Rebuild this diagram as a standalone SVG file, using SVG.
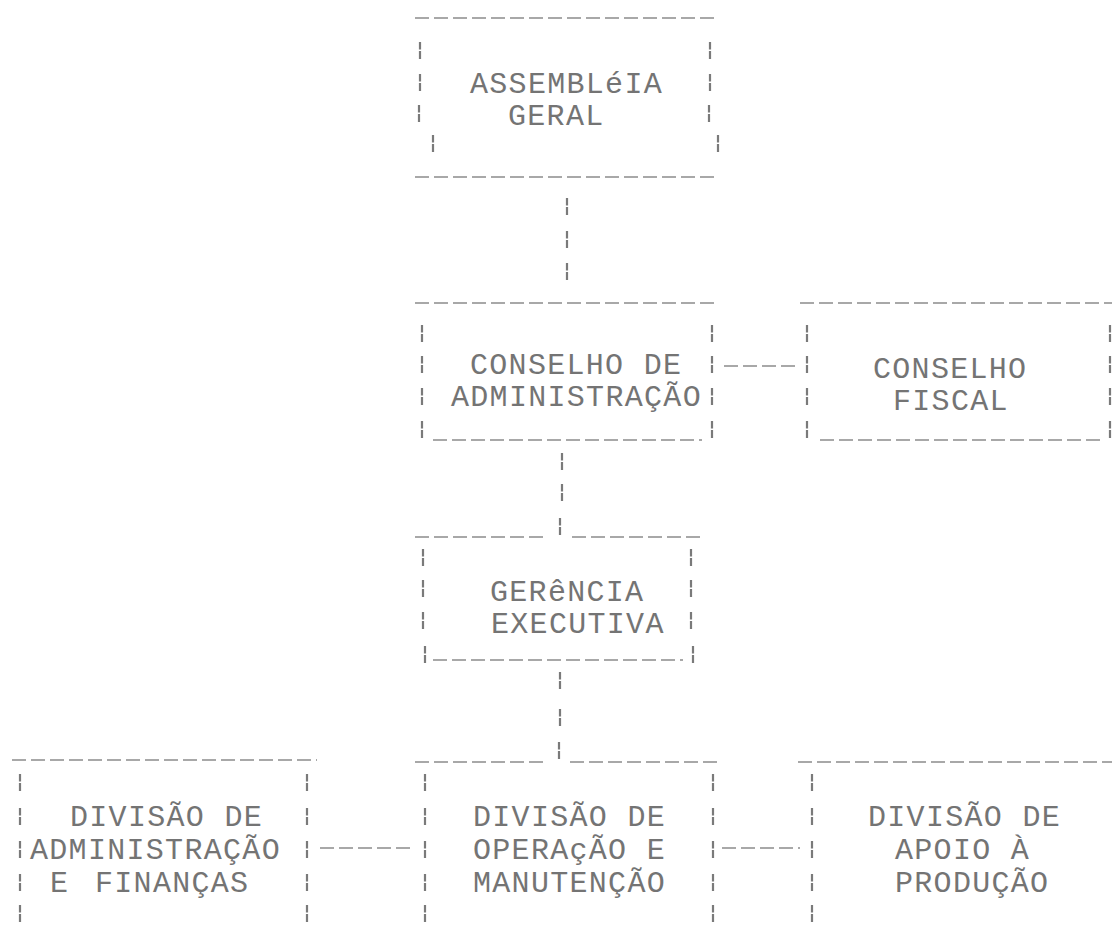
<svg xmlns="http://www.w3.org/2000/svg" width="1112" height="936" viewBox="0 0 1112 936">
<defs>
<style>
.t{font-family:"Liberation Mono","DejaVu Sans Mono",monospace;font-size:30px;letter-spacing:1.3px;fill:#747474}
.h{stroke:#8c8c8c;stroke-width:1.6;stroke-dasharray:14 5;fill:none}
.b{stroke:#7a7a7a;stroke-width:2.2;fill:none}
</style>
<path id="bar" class="b" d="M0,-18 v7.5 M0,-9 v8"/>
</defs>
<rect width="1112" height="936" fill="#ffffff"/>

<g id="assembleia-geral">
<path class="h" d="M415,18 H718 M415,177 H718"/>
<use href="#bar" x="420" y="60"/><use href="#bar" x="420" y="92"/><use href="#bar" x="419" y="123"/><use href="#bar" x="433" y="153"/>
<use href="#bar" x="710" y="60"/><use href="#bar" x="710" y="92"/><use href="#bar" x="709" y="123"/><use href="#bar" x="718" y="153"/>
<text class="t" x="470" y="93">ASSEMBLéIA</text>
<text class="t" x="508" y="125">GERAL</text>
</g>

<g id="conselho-administracao">
<path class="h" d="M415,303 H718 M433,440 H702"/>
<use href="#bar" x="422" y="343"/><use href="#bar" x="422" y="374"/><use href="#bar" x="422" y="406"/><use href="#bar" x="422" y="439"/>
<use href="#bar" x="712" y="343"/><use href="#bar" x="712" y="374"/><use href="#bar" x="712" y="406"/><use href="#bar" x="712" y="439"/>
<text class="t" x="470" y="374">CONSELHO DE</text>
<text class="t" x="451" y="406">ADMINISTRAÇÃO</text>
</g>

<g id="conselho-fiscal">
<path class="h" d="M800,303 H1112 M820,440 H1104"/>
<use href="#bar" x="807" y="343"/><use href="#bar" x="807" y="374"/><use href="#bar" x="807" y="406"/><use href="#bar" x="807" y="439"/>
<use href="#bar" x="1110" y="343"/><use href="#bar" x="1110" y="374"/><use href="#bar" x="1110" y="406"/><use href="#bar" x="1110" y="439"/>
<text class="t" x="873" y="378">CONSELHO</text>
<text class="t" x="893" y="410">FISCAL</text>
</g>

<g id="gerencia-executiva">
<path class="h" d="M415,537 H548 M572,537 H702 M433,660 H683"/>
<use href="#bar" x="423" y="567"/><use href="#bar" x="423" y="598"/><use href="#bar" x="423" y="630"/><use href="#bar" x="425" y="664"/>
<use href="#bar" x="691" y="567"/><use href="#bar" x="691" y="598"/><use href="#bar" x="691" y="630"/><use href="#bar" x="693" y="664"/>
<text class="t" x="490" y="601">GERêNCIA</text>
<text class="t" x="491" y="633">EXECUTIVA</text>
</g>

<g id="divisao-administracao-financas">
<path class="h" d="M12,760 H317"/>
<use href="#bar" x="20" y="792"/><use href="#bar" x="20" y="826"/><use href="#bar" x="20" y="859"/><use href="#bar" x="20" y="892"/><use href="#bar" x="20" y="923"/>
<use href="#bar" x="307" y="792"/><use href="#bar" x="307" y="826"/><use href="#bar" x="307" y="859"/><use href="#bar" x="307" y="892"/><use href="#bar" x="307" y="923"/>
<text class="t" x="70" y="826">DIVISÃO DE</text>
<text class="t" x="30" y="859">ADMINISTRAÇÃO</text>
<text class="t" y="892"><tspan x="50">E</tspan><tspan x="95">FINANÇAS</tspan></text>
</g>

<g id="divisao-operacao-manutencao">
<path class="h" d="M415,762 H548 M570,762 H720"/>
<use href="#bar" x="425" y="792"/><use href="#bar" x="425" y="826"/><use href="#bar" x="425" y="859"/><use href="#bar" x="425" y="892"/><use href="#bar" x="425" y="923"/>
<use href="#bar" x="713" y="792"/><use href="#bar" x="713" y="826"/><use href="#bar" x="713" y="859"/><use href="#bar" x="713" y="892"/><use href="#bar" x="713" y="923"/>
<text class="t" x="473" y="826">DIVISÃO DE</text>
<text class="t" x="473" y="859">OPERAçÃO E</text>
<text class="t" x="473" y="892">MANUTENÇÃO</text>
</g>

<g id="divisao-apoio-producao">
<path class="h" d="M798,762 H1112"/>
<use href="#bar" x="812" y="792"/><use href="#bar" x="812" y="826"/><use href="#bar" x="812" y="859"/><use href="#bar" x="812" y="892"/><use href="#bar" x="812" y="923"/>
<text class="t" x="868" y="826">DIVISÃO DE</text>
<text class="t" x="895" y="859">APOIO À</text>
<text class="t" x="895" y="892">PRODUÇÃO</text>
</g>

<g id="connectors">
<use href="#bar" x="567" y="216"/><use href="#bar" x="567" y="249"/><use href="#bar" x="567" y="281"/>
<path class="h" d="M724,366 H796"/>
<use href="#bar" x="562" y="471"/><use href="#bar" x="562" y="502"/><use href="#bar" x="560" y="536"/>
<use href="#bar" x="560" y="690"/><use href="#bar" x="560" y="727"/><use href="#bar" x="559" y="760"/>
<path class="h" d="M320,848 H413 M722,848 H800"/>
</g>
</svg>
